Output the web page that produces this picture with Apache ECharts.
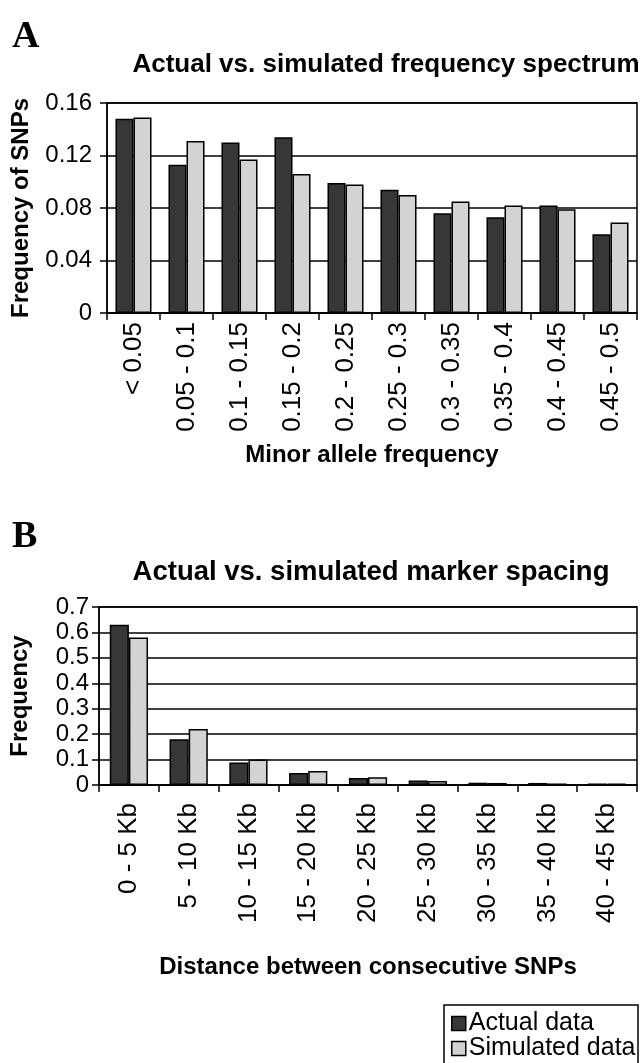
<!DOCTYPE html>
<html>
<head>
<meta charset="utf-8">
<script src="https://cdn.jsdelivr.net/npm/echarts@6/dist/echarts.min.js"></script>
<style>
html,body{margin:0;padding:0;background:#fff;}
#c{width:642px;height:1063px;}
</style>
</head>
<body>
<div id="c"></div>
<script>
const catsA = ['< 0.05','0.05 - 0.1','0.1 - 0.15','0.15 - 0.2','0.2 - 0.25','0.25 - 0.3','0.3 - 0.35','0.35 - 0.4','0.4 - 0.45','0.45 - 0.5'];
const actualA = [0.148,0.113,0.130,0.134,0.099,0.094,0.076,0.073,0.082,0.060];
const simA    = [0.149,0.131,0.117,0.106,0.098,0.090,0.085,0.082,0.079,0.069];
const catsB = ['0 - 5 Kb','5 - 10 Kb','10 - 15 Kb','15 - 20 Kb','20 - 25 Kb','25 - 30 Kb','30 - 35 Kb','35 - 40 Kb','40 - 45 Kb'];
const actualB = [0.63,0.18,0.088,0.047,0.028,0.018,0.009,0.008,0.006];
const simB    = [0.58,0.22,0.10,0.055,0.030,0.016,0.008,0.006,0.005];
const seriesNames = ['Actual data','Simulated data'];
const yTicksA = {min:0,max:0.16,interval:0.04};
const yTicksB = {min:0,max:0.7,interval:0.1};

const FONT = '"Liberation Sans", Arial, sans-serif';
const DARK = '#373737', LIGHT = '#d3d3d3';

function yAxis(idx, t, name, gap, margin){
  return {
    type:'value', gridIndex:idx, min:t.min, max:t.max, interval:t.interval,
    name:name, nameLocation:'middle', nameRotate:90, nameGap:gap,
    nameTextStyle:{fontFamily:FONT,fontWeight:'bold',fontSize:24,color:'#000'},
    axisLine:{show:true,lineStyle:{color:'#000',width:1.5}},
    axisTick:{show:true,inside:false,length:7,lineStyle:{color:'#000',width:1.5}},
    axisLabel:{fontFamily:FONT,fontSize:24,color:'#000',margin:margin},
    splitLine:{show:true,lineStyle:{color:'#000',width:1.5}}
  };
}
function xAxis(idx, cats, name, gap, margin){
  return {
    type:'category', gridIndex:idx, data:cats,
    name:name, nameLocation:'middle', nameGap:gap,
    nameTextStyle:{fontFamily:FONT,fontWeight:'bold',fontSize:24,color:'#000'},
    axisLine:{show:true,lineStyle:{color:'#000',width:1.5}},
    axisTick:{show:true,alignWithLabel:false,length:7,lineStyle:{color:'#000',width:1.5}},
    axisLabel:{fontFamily:FONT,fontSize:26,color:'#000',rotate:90,margin:margin,interval:0},
    splitLine:{show:false}
  };
}
function bar(name, data, xi, color, gapCat){
  return {
    name:name, type:'bar', xAxisIndex:xi, yAxisIndex:xi, data:data,
    barGap:'0%', barCategoryGap:gapCat,
    itemStyle:{color:color,borderColor:'#000',borderWidth:1.5},
    animation:false
  };
}
function legendItem(name, top){
  return {
    data:[name], left:451, top:top, icon:'rect', orient:'vertical',
    itemWidth:14, itemHeight:14, itemGap:4, padding:0,
    textStyle:{fontFamily:FONT,fontSize:25,color:'#000',padding:[0,0,0,-2]},
    itemStyle:{borderColor:'#000',borderWidth:1.5}
  };
}

const chart = echarts.init(document.getElementById('c'), null, {renderer:'canvas'});
chart.setOption({
  backgroundColor:'#fff',
  animation:false,
  title:[
    {text:'Actual vs. simulated frequency spectrum', left:381, top:47, textAlign:'center',
     textStyle:{fontFamily:FONT,fontWeight:'bold',fontSize:26,color:'#000'}},
    {text:'Actual vs. simulated marker spacing', left:366, top:553, textAlign:'center',
     textStyle:{fontFamily:FONT,fontWeight:'bold',fontSize:27.5,color:'#000'}}
  ],
  graphic:[
    {type:'text', left:12, top:18, style:{text:'A', font:'bold 38px "Liberation Serif", serif', fill:'#000'}},
    {type:'text', left:12, top:518, style:{text:'B', font:'bold 38px "Liberation Serif", serif', fill:'#000'}},
    {type:'rect', z:-1, shape:{x:444, y:1005, width:194, height:70}, style:{fill:'#fff', stroke:'#000', lineWidth:1.5}}
  ],
  grid:[
    {left:107, right:5, top:103, height:210, show:true, borderColor:'#000', borderWidth:1.5, backgroundColor:'transparent'},
    {left:97, right:5, top:607, height:178, show:true, borderColor:'#000', borderWidth:1.5, backgroundColor:'transparent'}
  ],
  legend:[ legendItem(seriesNames[0], 1011), legendItem(seriesNames[1], 1036) ],
  xAxis:[ xAxis(0,catsA,'Minor allele frequency',130,9), xAxis(1,catsB,'Distance between consecutive SNPs',170,18) ],
  yAxis:[ yAxis(0,yTicksA,'Frequency of SNPs',74,15), yAxis(1,yTicksB,'Frequency',67,10) ],
  series:[
    bar(seriesNames[0], actualA, 0, DARK, '32%'),
    bar(seriesNames[1], simA, 0, LIGHT, '32%'),
    bar(seriesNames[0], actualB, 1, DARK, '36%'),
    bar(seriesNames[1], simB, 1, LIGHT, '36%')
  ]
});
</script>
</body>
</html>
